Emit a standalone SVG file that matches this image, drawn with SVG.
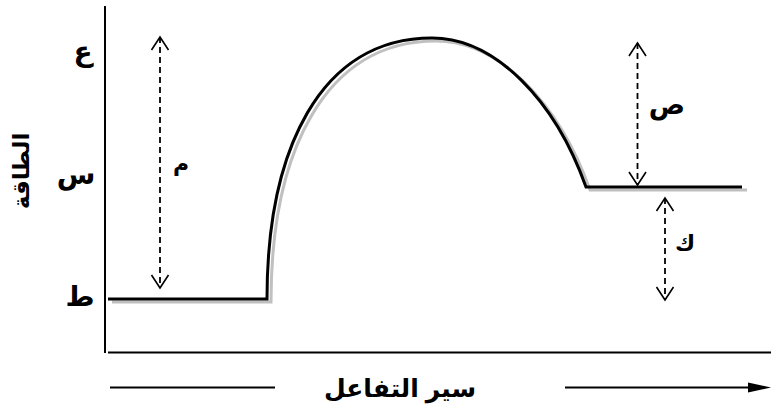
<svg xmlns="http://www.w3.org/2000/svg" width="771" height="408" viewBox="0 0 771 408">
<style>
.lbl{font-family:"Liberation Sans","DejaVu Sans",sans-serif;font-weight:bold;fill:#000}
.axis{stroke:#000;stroke-width:2;fill:none}
.dash{stroke:#000;stroke-width:1.8;stroke-dasharray:6 4;fill:none;marker-start:url(#chev);marker-end:url(#chev)}
</style>
<defs>
<marker id="chev" viewBox="-16 -10 18 20" refX="0" refY="0" markerUnits="userSpaceOnUse" markerWidth="18" markerHeight="20" orient="auto-start-reverse" overflow="visible">
<path d="M-13,-8.5 L0,0 L-13,8.5" fill="none" stroke="#000" stroke-width="1.6"/>
</marker>
</defs>
<rect width="771" height="408" fill="#fff"/>
<g id="axes">
<line class="axis" x1="105" y1="6" x2="105" y2="353"/>
<line class="axis" x1="108" y1="352.5" x2="771" y2="352.5"/>
</g>
<g id="curve">
<path d="M112,302 H271 C271,153 324,41 436,41 C499,41 559,103 590,190 H747" fill="none" stroke="#c0c0c0" stroke-width="3"/>
<path d="M108,299 H267 C267,150 320,38 432,38 C495,38 555,100 586,187 H742" fill="none" stroke="#000" stroke-width="3"/>
</g>
<g id="connectors">
<line class="dash" x1="160" y1="37" x2="160" y2="288"/>
<line class="dash" x1="637.5" y1="43" x2="637.5" y2="185"/>
<line class="dash" x1="665" y1="198" x2="665" y2="300"/>
</g>
<g id="labels">
<text class="lbl" x="181" y="171" font-size="22" text-anchor="middle">م</text>
<text class="lbl" x="667" y="114" font-size="27" text-anchor="middle">ص</text>
<text class="lbl" x="685" y="251" font-size="22" text-anchor="middle">ك</text>
<text class="lbl" x="83" y="61" font-size="28" text-anchor="middle">ع</text>
<text class="lbl" x="76" y="184" font-size="28" text-anchor="middle">س</text>
<text class="lbl" x="80" y="306" font-size="28" text-anchor="middle">ط</text>
<text class="lbl" transform="translate(29,171) rotate(-90)" font-size="23" text-anchor="middle">الطاقة</text>
</g>
<g id="x-axis-label">
<line x1="110" y1="387.5" x2="275" y2="387.5" stroke="#000" stroke-width="2"/>
<line x1="565" y1="387.5" x2="752" y2="387.5" stroke="#000" stroke-width="2"/>
<path d="M748,382.5 L771,387.5 L748,392.5 Z" fill="#000"/>
<text class="lbl" x="400" y="397" font-size="25" text-anchor="middle">سير التفاعل</text>
</g>
</svg>
